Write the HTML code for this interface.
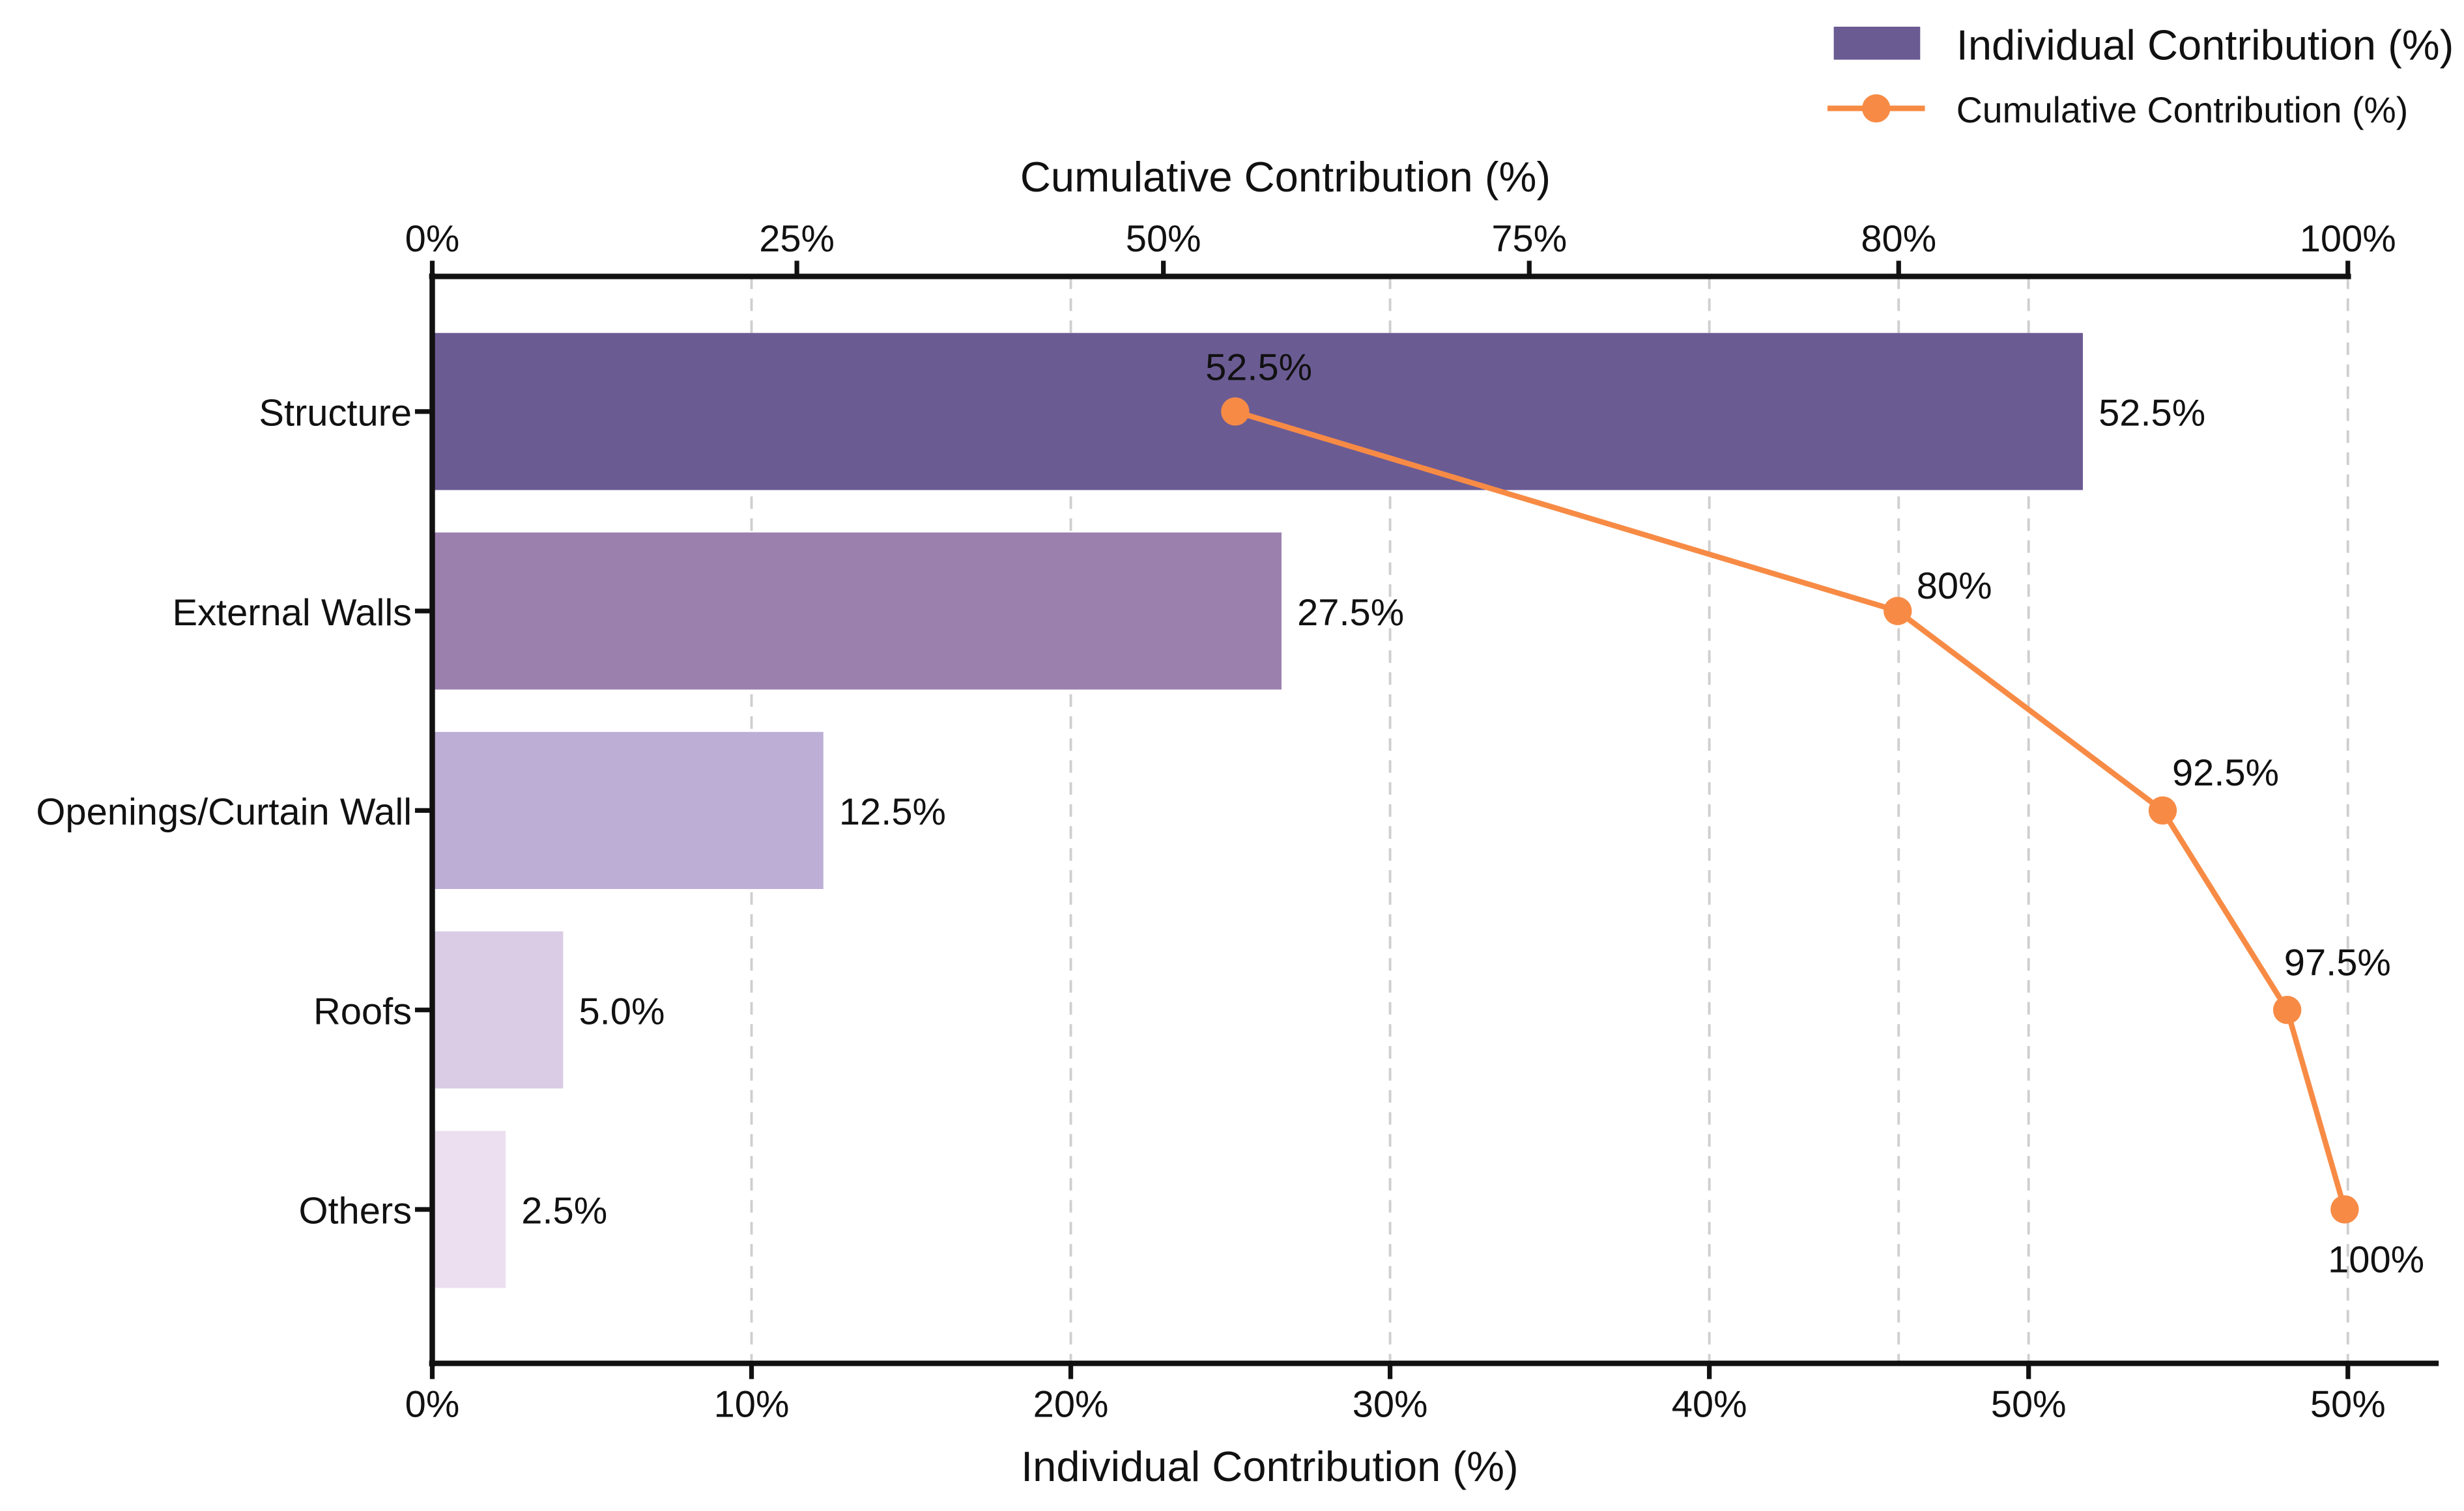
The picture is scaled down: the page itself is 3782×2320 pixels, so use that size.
<!DOCTYPE html>
<html><head><meta charset="utf-8"><style>
html,body{margin:0;padding:0;background:#fff}
svg{display:block;font-family:"Liberation Sans",Arial,sans-serif}
</style></head><body>
<svg id="chart" width="3782" height="2320" viewBox="0 0 1568 962" xmlns="http://www.w3.org/2000/svg">
<g id="grid"></g>
<g id="bars"></g>
<g id="axes"></g>
<g id="line"></g>
<g>
<rect x="1167" y="17" width="55" height="21" fill="#6b5b93"/>
<text x="1245" y="38" font-size="27" fill="#111">Individual Contribution (%)</text>
<line x1="1163" y1="69" x2="1225" y2="69" stroke="#f78b45" stroke-width="3.5"/>
<circle cx="1194" cy="69" r="9" fill="#f78b45"/>
<text x="1245" y="78" font-size="23" fill="#111">Cumulative Contribution (%)</text>
</g>
<text x="818" y="122" font-size="27" text-anchor="middle" fill="#111">Cumulative Contribution (%)</text>
<text x="808" y="943" font-size="27" text-anchor="middle" fill="#111">Individual Contribution (%)</text>
</svg>
<script>
const categories = ["Structure","External Walls","Openings/Curtain Wall","Roofs","Others"];
const individual = [51.7, 26.6, 12.25, 4.1, 2.3];
const individualLabels = ["52.5%","27.5%","12.5%","5.0%","2.5%"];
const cumulativeLabels = ["52.5%","80%","92.5%","97.5%","100%"];
const cumulativePlot = [25.15, 45.9, 54.2, 58.1, 59.9];
const bottomTicks = [0,10,20,30,40,50,60];
const bottomTickLabels = ["0%","10%","20%","30%","40%","50%","50%"];
const topTicks = [0, 11.42, 22.9, 34.36, 45.93, 60];
const topTickLabels = ["0%","25%","50%","75%","80%","100%"];
const extraGrid = [45.93];
const colors = ["#6b5b93","#9b80ae","#bcaed5","#d9cce4","#ebdff0"];

const NS="http://www.w3.org/2000/svg";
const X0=275, PX=20.32, TOP=176, BOT=868, ROW0=262, ROWH=127, BARH=100;
const xs=v=>X0+v*PX;
const ys=i=>ROW0+i*ROWH;
function mk(tag,attrs,parent,text){const e=document.createElementNS(NS,tag);for(const k in attrs)e.setAttribute(k,attrs[k]);if(text!==undefined)e.textContent=text;parent.appendChild(e);return e;}
const grid=document.getElementById('grid'),bars=document.getElementById('bars'),axes=document.getElementById('axes'),line=document.getElementById('line');

bottomTicks.concat(extraGrid).forEach(t=>{if(t>0){const x=xs(t).toFixed(1);
const g=mk('line',{x1:x,x2:x,y1:TOP,y2:BOT,stroke:'#cfcfcf','stroke-width':1.6,'stroke-dasharray':'8,6'},grid);

}});

categories.forEach((c,i)=>{
const r=mk('rect',{x:X0,y:ys(i)-BARH/2,width:individual[i]*PX,height:BARH,fill:colors[i]},bars);


const t=mk('text',{x:xs(individual[i])+10,y:ys(i)+9,'font-size':24,fill:'#111'},bars,individualLabels[i]);


const l=mk('text',{x:262,y:ys(i)+9,'font-size':24,'text-anchor':'end',fill:'#111'},axes,c);


const tk=mk('line',{x1:264,x2:X0,y1:ys(i),y2:ys(i),stroke:'#111','stroke-width':3},axes);


});

const la=mk('line',{x1:X0,x2:X0,y1:TOP-2,y2:BOT+2,stroke:'#111','stroke-width':3.5},axes);


const ba=mk('line',{x1:X0-2,x2:1552,y1:BOT,y2:BOT,stroke:'#111','stroke-width':3.5},axes);


const ta=mk('line',{x1:X0-2,x2:xs(60)+2,y1:TOP,y2:TOP,stroke:'#111','stroke-width':3.5},axes);



bottomTicks.forEach((t,i)=>{const x=xs(t);
const k=mk('line',{x1:x,x2:x,y1:BOT,y2:BOT+10,stroke:'#111','stroke-width':3},axes);


const l=mk('text',{x:x,y:BOT+34,'font-size':24,'text-anchor':'middle',fill:'#111'},axes,bottomTickLabels[i]);

});
topTicks.forEach((t,i)=>{const x=xs(t);
const k=mk('line',{x1:x,x2:x,y1:TOP-10,y2:TOP,stroke:'#111','stroke-width':3},axes);


const l=mk('text',{x:x,y:TOP-16,'font-size':24,'text-anchor':'middle',fill:'#111'},axes,topTickLabels[i]);

});

const pts=cumulativePlot.map((v,i)=>xs(v).toFixed(1)+','+ys(i));
const pl=mk('polyline',{points:pts.join(' '),fill:'none',stroke:'#f78b45','stroke-width':3.5},line);


const off=[[15,-20,'middle'],[12,-8,'start'],[6,-16,'start'],[-2,-22,'start'],[20,40,'middle']];
cumulativePlot.forEach((v,i)=>{
const c=mk('circle',{cx:xs(v),cy:ys(i),r:9,fill:'#f78b45'},line);


const t=mk('text',{x:xs(v)+off[i][0],y:ys(i)+off[i][1],'font-size':24,'text-anchor':off[i][2],fill:'#111'},line,cumulativeLabels[i]);


});
</script>
</body></html>
